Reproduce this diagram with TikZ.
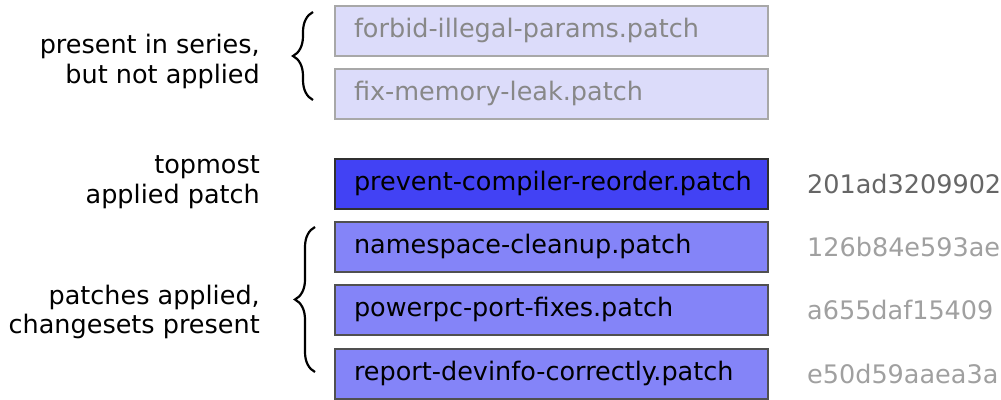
\documentclass[tikz,border=0pt]{standalone}
\usepackage{fontspec}
\setmainfont{DejaVu Sans}
\usetikzlibrary{decorations.pathreplacing}
\definecolor{pendfill}{HTML}{DCDCFA}
\definecolor{pendline}{HTML}{A8A8A8}
\definecolor{pendtext}{HTML}{888888}
\definecolor{topfill}{HTML}{4242F4}
\definecolor{topline}{HTML}{303030}
\definecolor{appfill}{HTML}{8484F8}
\definecolor{appline}{HTML}{505050}
\definecolor{hashdark}{HTML}{666666}
\definecolor{hashlight}{HTML}{A0A0A0}
\newcommand{\boxtext}[1]{\makebox[395pt][l]{#1}}
\tikzset{
  patchbox/.style={draw, line width=2pt, rectangle, anchor=west, inner xsep=19pt, inner ysep=0pt,
    text height=19pt, text depth=6pt, minimum height=50pt, font=\fontsize{25.5}{30}\selectfont},
  pending/.style={patchbox, fill=pendfill, draw=pendline, text=pendtext},
  topmost/.style={patchbox, fill=topfill, draw=topline, text=black},
  applied/.style={patchbox, fill=appfill, draw=appline, text=black},
  hashtext/.style={anchor=west, inner sep=0pt, text height=19pt, text depth=0pt, font=\fontsize{25.5}{30}\selectfont},
  sidelabel/.style={anchor=base east, inner sep=0pt, font=\fontsize{25.5}{30}\selectfont},
  bracepath/.style={decorate, decoration={brace, amplitude=20pt}, line width=2.2pt}
}
\begin{document}
\begin{tikzpicture}[x=1pt,y=-1pt]
\useasboundingbox (0,0) rectangle (1001,399);
\node[pending] (p1) at (334,31) {\boxtext{forbid-illegal-params.patch}};
\node[pending] (p2) at (334,94) {\boxtext{fix-memory-leak.patch}};
\node[topmost] (p3) at (334,183.5) {\boxtext{prevent-compiler-reorder.patch}};
\node[applied] (p4) at (334,247) {\boxtext{namespace-cleanup.patch}};
\node[applied] (p5) at (334,310) {\boxtext{powerpc-port-fixes.patch}};
\node[applied] (p6) at (334,373.5) {\boxtext{report-devinfo-correctly.patch}};

\node[hashtext, text=hashdark] (h3) at (807,183.5) {201ad3209902};
\node[hashtext, text=hashlight] (h4) at (807,247) {126b84e593ae};
\node[hashtext, text=hashlight] (h5) at (807,310) {a655daf15409};
\node[hashtext, text=hashlight] (h6) at (807,373.5) {e50d59aaea3a};

\coordinate (b1t) at (313,12);
\coordinate (b1b) at (313,100);
\coordinate (b2t) at (315,227);
\coordinate (b2b) at (315,372);
\draw[bracepath] (b1b) -- (b1t);
\draw[bracepath] (b2b) -- (b2t);

\node[sidelabel] (l1a) at (260,53) {present in series,};
\node[sidelabel] (l1b) at (260,83) {but not applied};
\node[sidelabel] (l2a) at (260,173) {topmost};
\node[sidelabel] (l2b) at (260,203) {applied patch};
\node[sidelabel] (l3a) at (260,304) {patches applied,};
\node[sidelabel] (l3b) at (260,333) {changesets present};
\end{tikzpicture}
\end{document}
